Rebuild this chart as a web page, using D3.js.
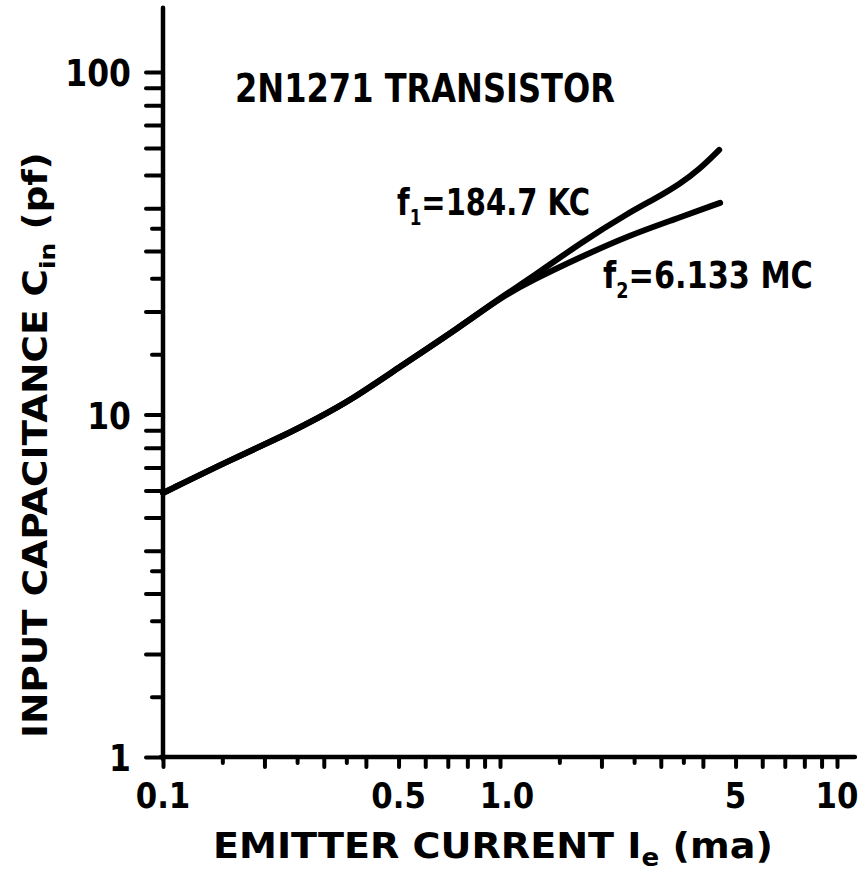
<!DOCTYPE html>
<html>
<head>
<meta charset="utf-8">
<script src="https://cdn.jsdelivr.net/npm/d3@7"></script>
<style>
body{margin:0;background:#fff;}
text{font-family:"DejaVu Sans",sans-serif;font-weight:bold;fill:#000;}
</style>
</head>
<body>
<svg id="chart" width="866" height="873"></svg>
<script>
// curves (Ie in ma, Cin in pf)
var ieF1  = [0.1, 0.16, 0.23, 0.29, 0.36, 0.5, 0.76, 1.0, 1.25, 1.73, 2.43, 2.88, 3.42, 3.92, 4.47];
var cinF1 = [5.9, 7.4, 8.7, 9.8, 11.0, 13.7, 18.0, 21.9, 25.2, 31.7, 39.0, 42.6, 47.1, 52.1, 59.2];
var ieF2  = [0.1, 0.16, 0.23, 0.29, 0.36, 0.5, 0.76, 1.0, 1.25, 1.73, 2.43, 3.26, 4.5];
var cinF2 = [5.9, 7.4, 8.7, 9.8, 11.0, 13.7, 18.0, 21.9, 24.7, 28.8, 33.4, 37.0, 41.5];

var xTicksLong  = [0.1,0.2,0.3,0.4,0.5,0.6,0.7,0.8,0.9,1,2,3,4,5,6,7,8,9,10];
var xTicksShort = [0.15,0.25,0.35,1.5,2.5,3.5];
var xLabelVals  = [0.1, 0.5, 1, 5, 10];
var xLabelText  = ["0.1","0.5","1.0","5","10"];
var yTicksLong  = [1,2,3,4,5,6,7,8,9,10,20,30,40,50,60,70,80,90,100];
var yTicksShort = [1.5,2.5,3.5,15,25,35];
var yLabelVals  = [1, 10, 100];
var yLabelText  = ["1","10","100"];
var xExtent = [0.1, 11.3];
var yExtent = [1, 154];

var svg = d3.select("#chart");
var x = d3.scaleLog().domain([0.1, 10]).range([163, 837]);
var y = d3.scaleLog().domain([1, 100]).range([757, 72]);

// squeeze a text horizontally so it covers the given width
function fit(t, tx, ty, w, rot){
	var bw = t.node().getBBox().width;
	t.attr("transform","translate("+tx+","+ty+")"+(rot ? " rotate("+rot+")" : "")+" scale("+(w/bw)+",1)");
}

// ticks
function xTicks(vals, len){
	var g = svg.append("g").attr("transform","translate(0,"+y(1)+")")
		.call(d3.axisBottom(x).tickValues(vals).tickSize(len).tickFormat(""));
	g.select(".domain").remove();
	g.selectAll("line").attr("stroke","#000").attr("stroke-width",4).attr("stroke-linecap","round");
}
function yTicks(vals, len){
	var g = svg.append("g").attr("transform","translate("+x(0.1)+",0)")
		.call(d3.axisLeft(y).tickValues(vals).tickSize(len).tickFormat(""));
	g.select(".domain").remove();
	g.selectAll("line").attr("stroke","#000").attr("stroke-width",4).attr("stroke-linecap","round");
}
xTicks(xTicksLong, 10);
xTicks(xTicksShort, 6);
yTicks(yTicksLong, 17);
yTicks(yTicksShort, 11);

// axis lines
svg.append("line").attr("x1",x(0.1)).attr("x2",x(0.1)).attr("y1",y(yExtent[1])).attr("y2",y(yExtent[0])+2)
	.attr("stroke","#000").attr("stroke-width",4.5).attr("stroke-linecap","round");
svg.append("line").attr("x1",x(xExtent[0])-2).attr("x2",x(xExtent[1])).attr("y1",y(1)).attr("y2",y(1))
	.attr("stroke","#000").attr("stroke-width",4.5).attr("stroke-linecap","round");

// tick labels
svg.selectAll(".xl").data(xLabelVals).enter().append("text")
	.attr("transform",function(d,i){return "translate("+(x(d)+(xLabelText[i]=="1.0"?7:0))+",808) scale(0.88,1)";})
	.attr("text-anchor","middle")
	.attr("font-size",35)
	.text(function(d,i){return xLabelText[i];});
svg.selectAll(".yl").data(yLabelVals).enter().append("text")
	.attr("transform",function(d){return "translate(131,"+(y(d)+14)+") scale(0.85,1)";})
	.attr("text-anchor","end")
	.attr("font-size",37)
	.text(function(d,i){return yLabelText[i];});

// curves
var line = d3.line().x(function(d){return x(d[0]);}).y(function(d){return y(d[1]);}).curve(d3.curveBasis);
var f1 = d3.zip(ieF1, cinF1);
var f2 = d3.zip(ieF2, cinF2);
[f1, f2].forEach(function(s){
	svg.append("path").datum(s).attr("d",line)
		.attr("fill","none").attr("stroke","#000").attr("stroke-width",6)
		.attr("stroke-linecap","round").attr("stroke-linejoin","round");
});

// titles
var tt = svg.append("text").attr("font-size",39).text("2N1271  TRANSISTOR");
fit(tt, 235, 102, 380);

var t1 = svg.append("text").attr("font-size",38);
t1.append("tspan").text("f");
t1.append("tspan").attr("font-size",22).attr("dy",10).text("1");
t1.append("tspan").attr("dy",-10).text("=184.7 KC");
fit(t1, 397, 215, 193);

var t2 = svg.append("text").attr("font-size",38);
t2.append("tspan").text("f");
t2.append("tspan").attr("font-size",22).attr("dy",10).text("2");
t2.append("tspan").attr("dy",-10).text("=6.133 MC");
fit(t2, 603, 288, 210);

var xt = svg.append("text").attr("font-size",35);
xt.append("tspan").text("EMITTER  CURRENT  I");
xt.append("tspan").attr("font-size",24).attr("dy",8).text("e");
xt.append("tspan").attr("dy",-8).text("  (ma)");
fit(xt, 213, 858, 560);

var yt = svg.append("text").attr("font-size",33);
yt.append("tspan").text("INPUT  CAPACITANCE  C");
yt.append("tspan").attr("font-size",22).attr("dy",8).text("in");
yt.append("tspan").attr("dy",-8).text("  (pf)");
fit(yt, 47, 738, 586, -90);
</script>
</body>
</html>
